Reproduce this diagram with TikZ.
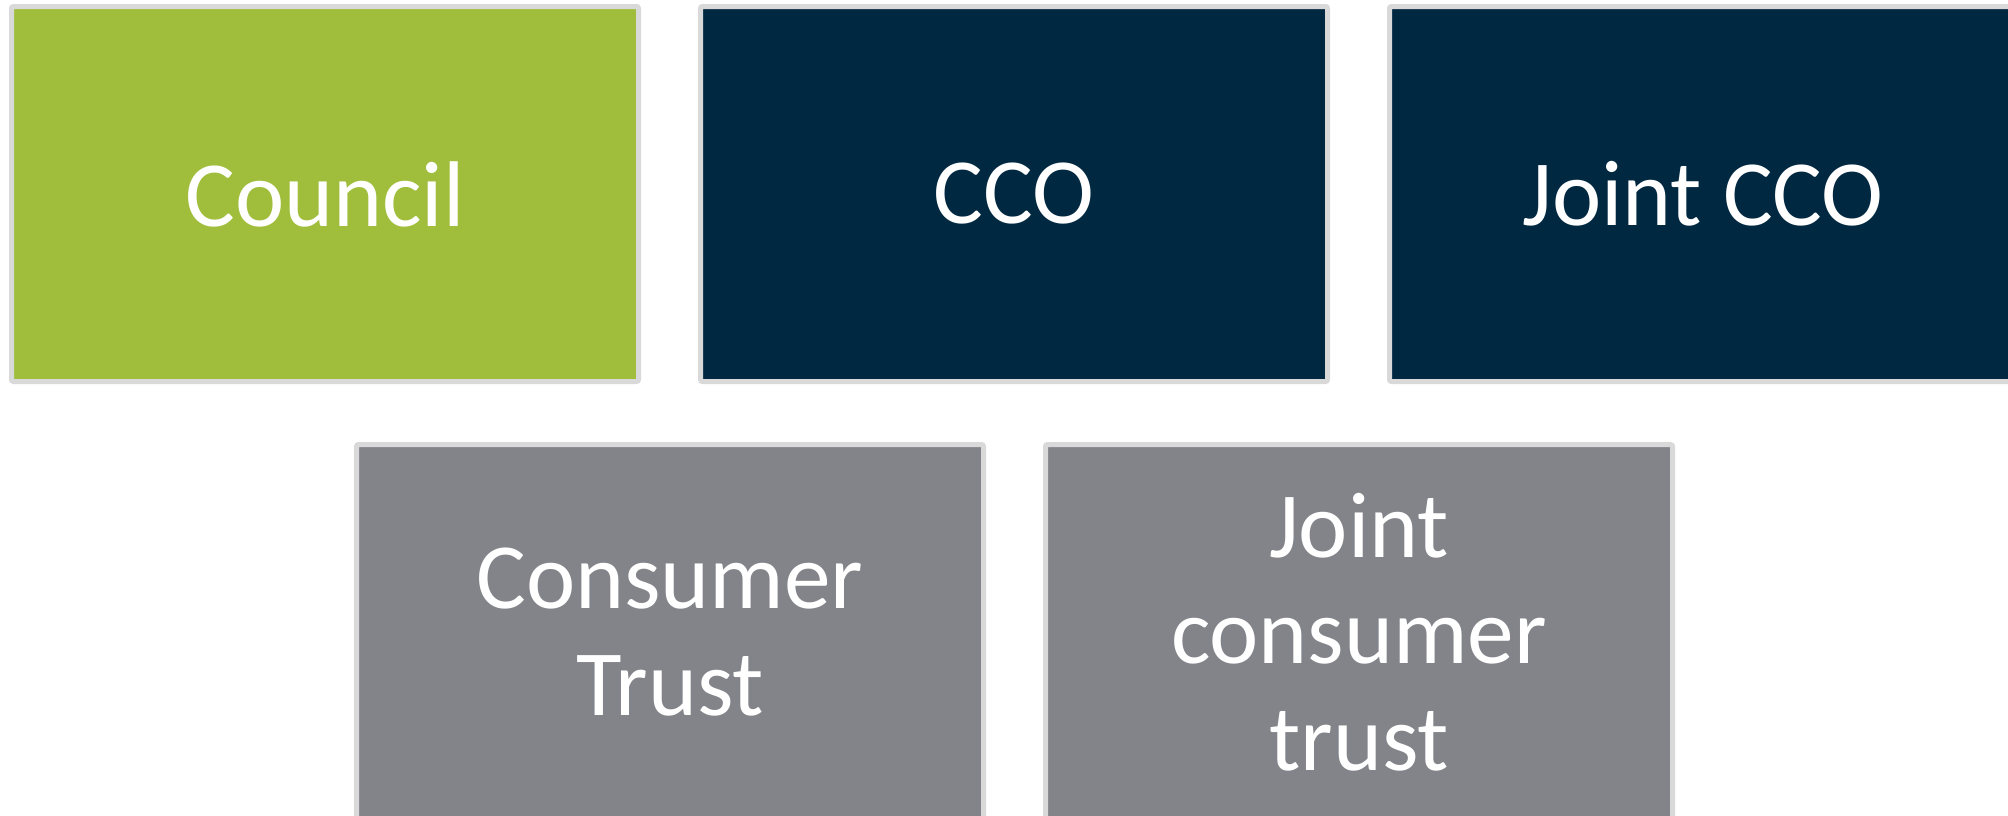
\documentclass[tikz,border=0pt]{standalone}
\usepackage{fontspec}
\setmainfont{Carlito}
\usetikzlibrary{positioning}
\definecolor{councilgreen}{RGB}{160,190,60}
\definecolor{ccoblue}{RGB}{0,40,65}
\definecolor{trustgray}{RGB}{131,132,137}
\definecolor{edgegray}{RGB}{217,217,217}
\tikzstyle{entity} = [rectangle, rounded corners=1.5pt, minimum width=470.25pt, minimum height=281.25pt, inner sep=0pt, line width=3.75pt, draw=edgegray, text=white, align=center, font=\fontsize{70pt}{80pt}\selectfont]
\tikzstyle{council} = [entity, fill=councilgreen]
\tikzstyle{cco} = [entity, fill=ccoblue]
\tikzstyle{trust} = [entity, fill=trustgray]

\begin{document}
\begin{tikzpicture}[x=0.75pt, y=-0.75pt]
        \useasboundingbox (0,0) rectangle (2008,815);
        \fill[white] (0,0) rectangle (2008,815);
        % top row
        \node (council) [council] at (325,194) {Council};
        \node (cco) [cco, right=42.75pt of council] {CCO};
        \node (jointcco) [cco, right=42.75pt of cco] {Joint CCO};
        % bottom row
        \node (ctrust) [trust, below=43.5pt of council, xshift=258.75pt] {Consumer\\Trust};
        \node (jctrust) [trust, right=42.75pt of ctrust] {Joint\\consumer\\trust};

    \end{tikzpicture}
\end{document}
